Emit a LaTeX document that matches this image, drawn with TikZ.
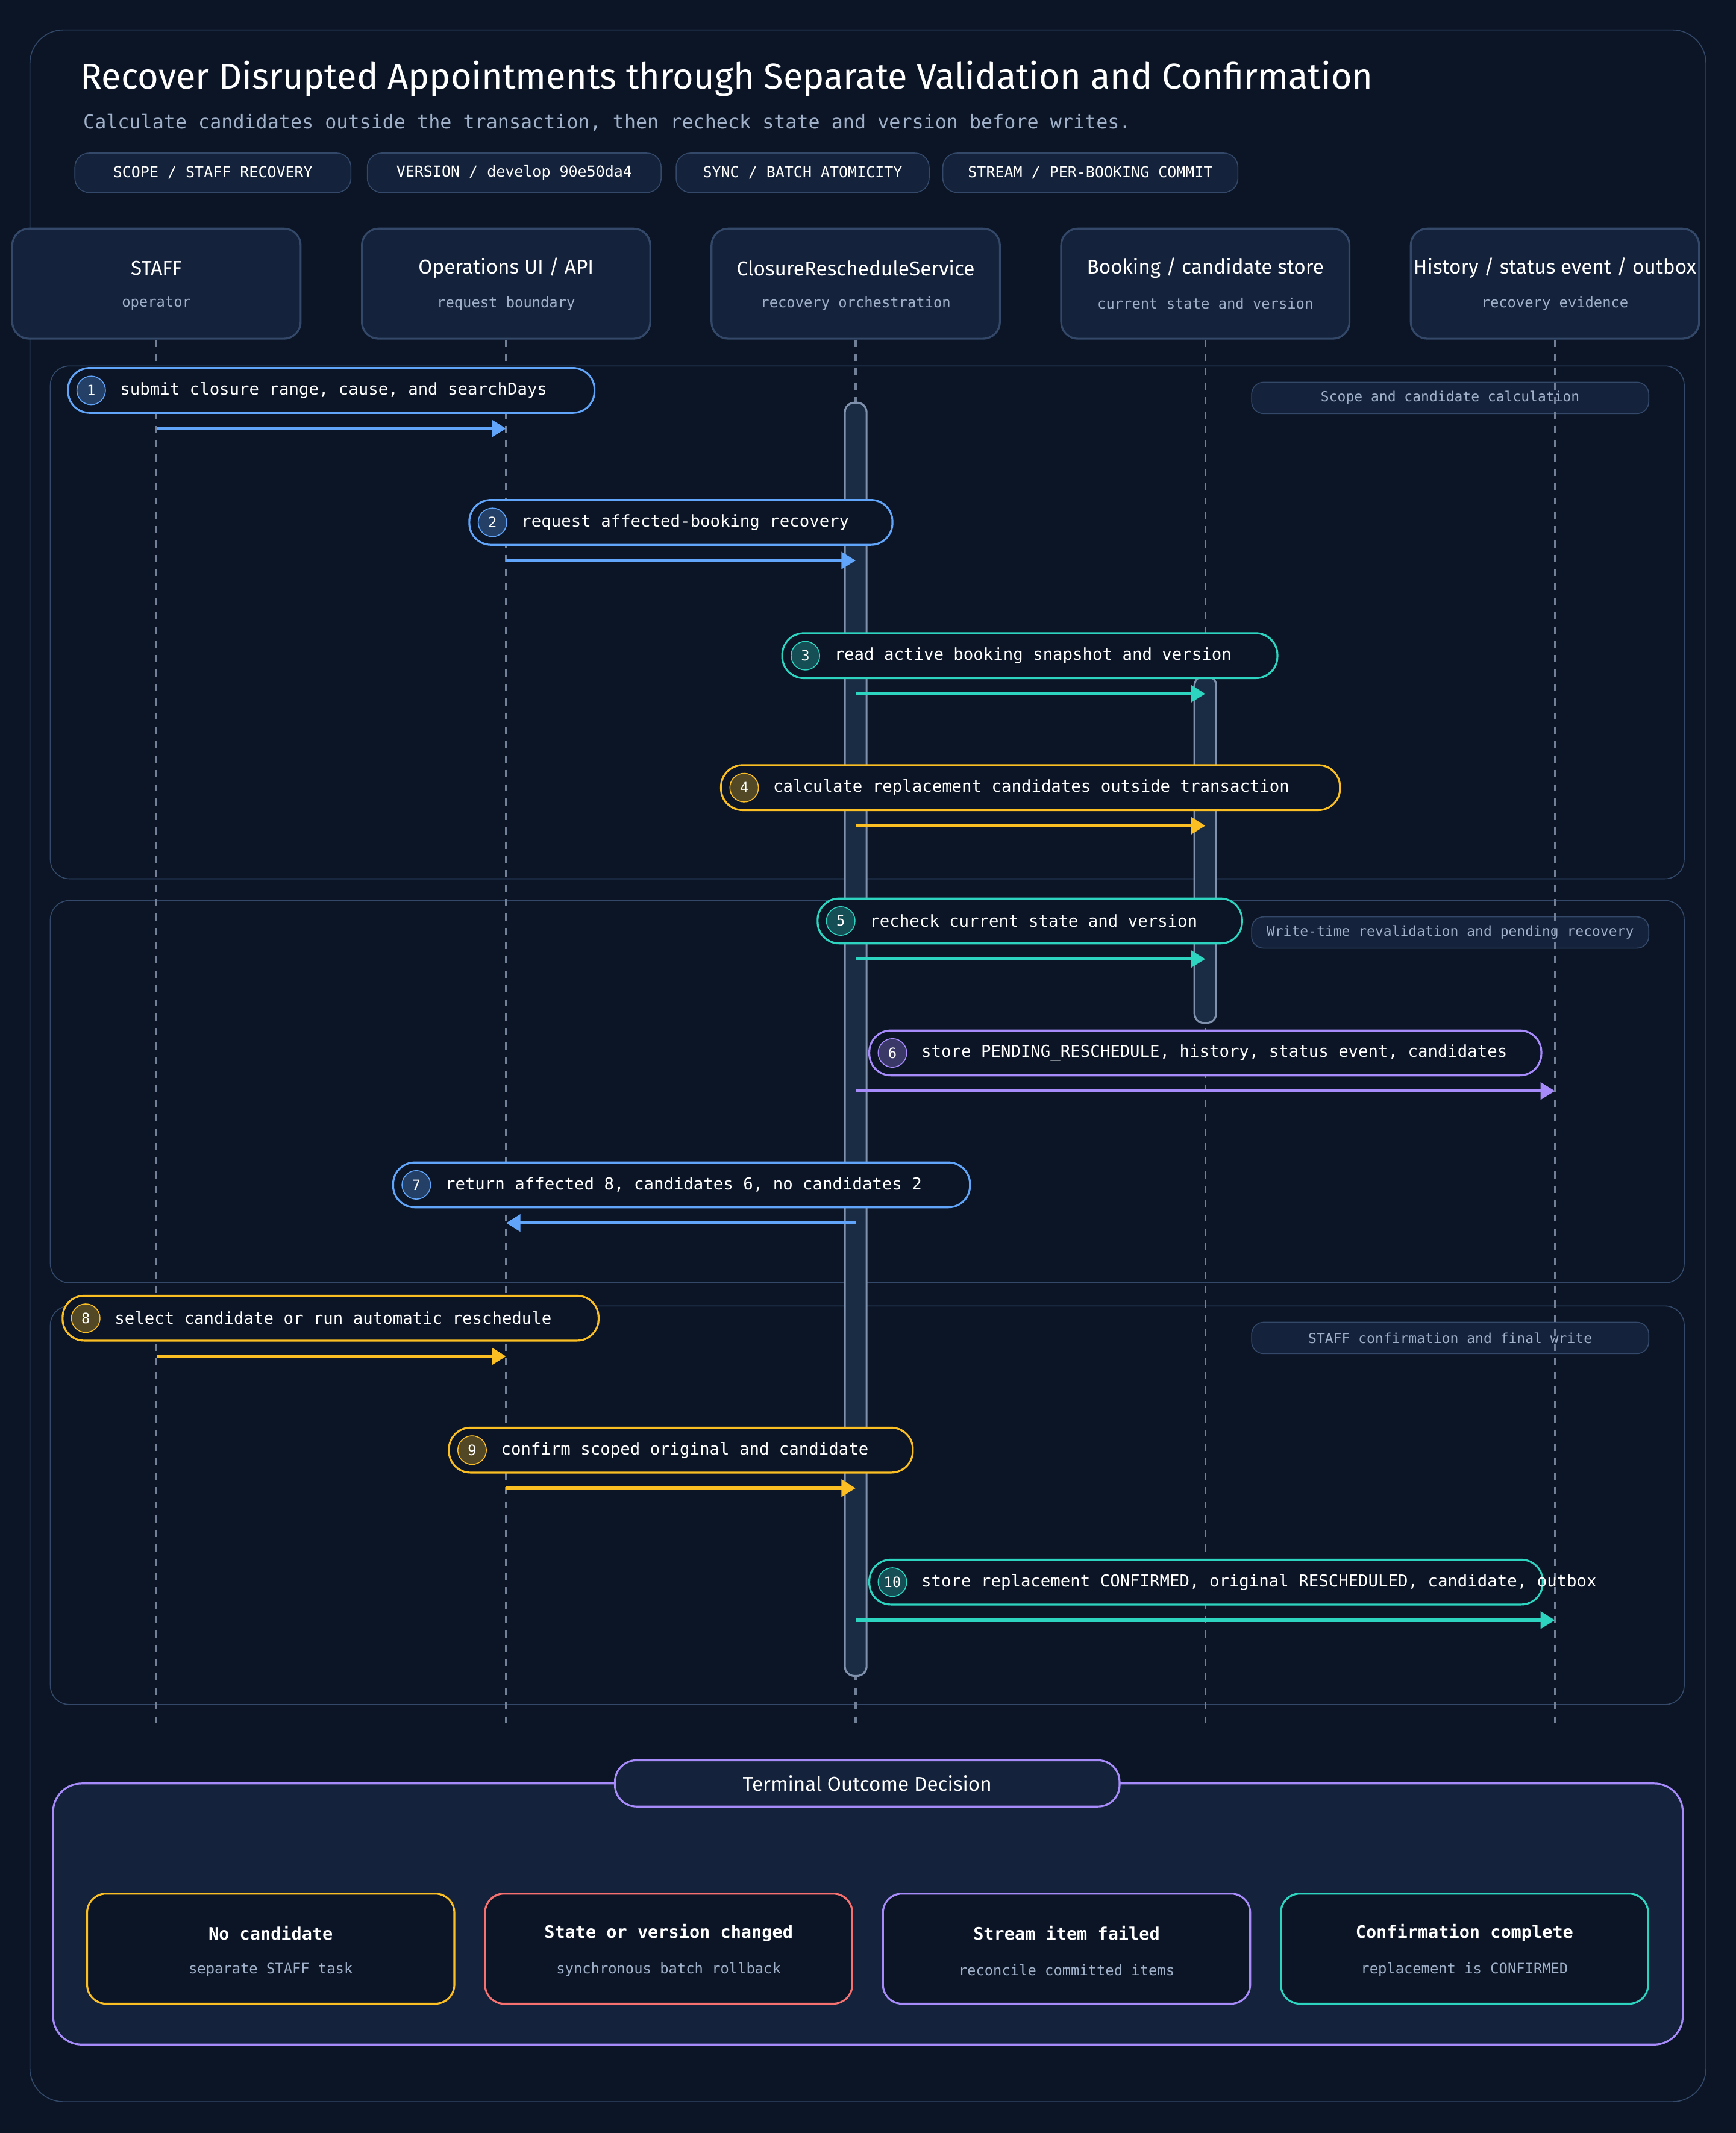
\documentclass[tikz,border=0pt]{standalone}
\usepackage{fontspec}
\setmainfont{DejaVu Sans Mono}
\newfontfamily\titlefont{Fira Sans}
\usetikzlibrary{arrows.meta}
\definecolor{bgdark}{HTML}{0B1526}
\definecolor{panel}{HTML}{14233B}
\definecolor{edgegray}{HTML}{34496A}
\definecolor{softtext}{HTML}{9FB0C8}
\definecolor{msgblue}{HTML}{60A5FA}
\definecolor{msgteal}{HTML}{2DD4BF}
\definecolor{msgyellow}{HTML}{FBBF24}
\definecolor{msgpurple}{HTML}{A78BFA}
\definecolor{msgred}{HTML}{F87171}
\tikzset{%
    chip/.style={draw=edgegray,fill=panel,rounded corners=6pt,text=white,font=\fontsize{6.3}{7}\selectfont,minimum height=0.58cm,inner sep=0pt},
    actor/.style={draw=edgegray,fill=panel,rounded corners=7pt,thick,minimum width=4.24cm,minimum height=1.62cm},
    group/.style={draw=edgegray,rounded corners=8pt},
    tag/.style={draw=edgegray,fill=panel,rounded corners=5pt,text=softtext,font=\fontsize{5.8}{7}\selectfont,minimum width=5.84cm,minimum height=0.46cm,inner sep=0pt},
    pill/.style={draw=#1,thick,fill=bgdark,rounded corners=9pt,minimum height=0.66cm,inner sep=0pt},
    num/.style={circle,draw=#1,fill=#1!30!bgdark,text=white,font=\fontsize{6}{7}\selectfont,minimum size=0.42cm,inner sep=0pt},
    msg/.style={draw=#1,line width=1.4pt,-{Triangle[length=6pt,width=7pt]}},
    card/.style={draw=#1,thick,fill=bgdark,rounded corners=8pt,minimum width=5.4cm,minimum height=1.62cm}
}

\begin{document}
\begin{tikzpicture}[x=0.02cm,y=-0.02cm]
    \fill[bgdark] (0,0) rectangle (1276,1568);
    \useasboundingbox (0,0) rectangle (1276,1568);
    \draw[edgegray,rounded corners=14pt] (22,22) rectangle (1254,1545);
    % title
    \node[anchor=west,text=white,font=\titlefont\fontsize{15}{18}\selectfont] (title) at (53,58) {Recover Disrupted Appointments through Separate Validation and Confirmation};
    \node[anchor=west,text=softtext,font=\fontsize{8}{10}\selectfont] (subtitle) at (55,90) {Calculate candidates outside the transaction, then recheck state and version before writes.};
    \node[chip,minimum width=4.06cm] (c1) at (156.5,127) {SCOPE / STAFF RECOVERY};
    \node[chip,minimum width=4.32cm] (c2) at (378,127) {VERSION / develop 90e50da4};
    \node[chip,minimum width=3.72cm] (c3) at (590,127) {SYNC / BATCH ATOMICITY};
    \node[chip,minimum width=4.34cm] (c4) at (801.5,127) {STREAM / PER-BOOKING COMMIT};
    % groups
    \draw[group] (37,269) rectangle (1238,646);
    \draw[group] (37,662) rectangle (1238,943);
    \draw[group] (37,960) rectangle (1238,1253);
    \node[tag] (g1) at (1066,292.5) {Scope and candidate calculation};
    \node[tag] (g2) at (1066,685.5) {Write-time revalidation and pending recovery};
    \node[tag] (g3) at (1066,983.5) {STAFF confirmation and final write};
    % participants
    \foreach \x/\n/\t/\s in {115/staff/{STAFF}/{operator},372/ui/{Operations UI / API}/{request boundary},629/svc/{ClosureRescheduleService}/{recovery orchestration},886/store/{Booking / candidate store}/{current state and version},1143/hist/{History / status event / outbox}/{recovery evidence}}
    {
    \node[actor] (\n) at (\x,208.5) {};
    \node[text=white,font=\titlefont\fontsize{8.4}{10}\selectfont] at (\x,197) {\t};
    \node[text=softtext,font=\fontsize{6}{7}\selectfont] at (\x,223) {\s};
    \draw[edgegray!70!white,dashed,thick] (\n.south) -- (\x,1270);
    \coordinate (\n-x) at (\x,0);
    }
    % activations
    \draw[fill=panel!80!edgegray,draw=softtext!70!edgegray,thick,rounded corners=4pt] (621,296) rectangle (637,1232);
    \draw[fill=panel!80!edgegray,draw=softtext!70!edgegray,thick,rounded corners=4pt] (878,497) rectangle (894,752);
    % messages
    \foreach \i/\a/\b/\y/\c/\l/\r/\t in {%
        1/staff/ui/287/msgblue/50/437/submit closure range{,} cause{,} and searchDays,
        2/ui/svc/384/msgblue/345/656/request affected-booking recovery,
        3/svc/store/482/msgteal/575/939/read active booking snapshot and version,
        4/svc/store/579/msgyellow/530/985/calculate replacement candidates outside transaction,
        5/svc/store/677/msgteal/601/913/recheck current state and version,
        6/svc/hist/774/msgpurple/639/1133/store PENDING\_RESCHEDULE{,} history{,} status event{,} candidates,
        7/svc/ui/871/msgblue/289/713/return affected 8{,} candidates 6{,} no candidates 2,
        8/staff/ui/969/msgyellow/46/440/select candidate or run automatic reschedule,
        9/ui/svc/1066/msgyellow/330/671/confirm scoped original and candidate,
        10/svc/hist/1163/msgteal/639/1134/store replacement CONFIRMED{,} original RESCHEDULED{,} candidate{,} outbox}
    {
    \node[pill=\c,minimum width={(\r-\l)*0.02cm}] (p\i) at ({(\l+\r)/2},\y) {};
    \node[num=\c] (n\i) at (\l+17,\y) {\i};
    \node[anchor=west,text=white,font=\fontsize{6.9}{9}\selectfont,inner sep=0pt] at (\l+38,\y) {\t};
    \coordinate (s\i) at (\a-x |- 0,\y+28);
    \coordinate (e\i) at (\b-x |- 0,\y+28);
    \draw[msg=\c] (s\i) -- (e\i);
    }
    % outcomes
    \draw[msgpurple,thick,fill=panel,rounded corners=12pt] (39,1311) rectangle (1237,1503);
    \node[draw=msgpurple,thick,fill=panel,rounded corners=9pt,minimum width=7.42cm,minimum height=0.68cm,text=white,font=\titlefont\fontsize{8.4}{10}\selectfont] (decide) at (637.5,1311) {Terminal Outcome Decision};
    \foreach \x/\c/\t/\s [count=\k] in {199/msgyellow/No candidate/separate STAFF task,491.5/msgred/State or version changed/synchronous batch rollback,784/msgpurple/Stream item failed/reconcile committed items,1076.5/msgteal/Confirmation complete/replacement is CONFIRMED}
    {
    \node[card=\c] (o\k) at (\x,1432.5) {};
    \node[text=white,font=\bfseries\fontsize{7.2}{9}\selectfont] at (\x,1421) {\t};
    \node[text=softtext,font=\fontsize{6}{7}\selectfont] at (\x,1448) {\s};
    }
\end{tikzpicture}
\end{document}
